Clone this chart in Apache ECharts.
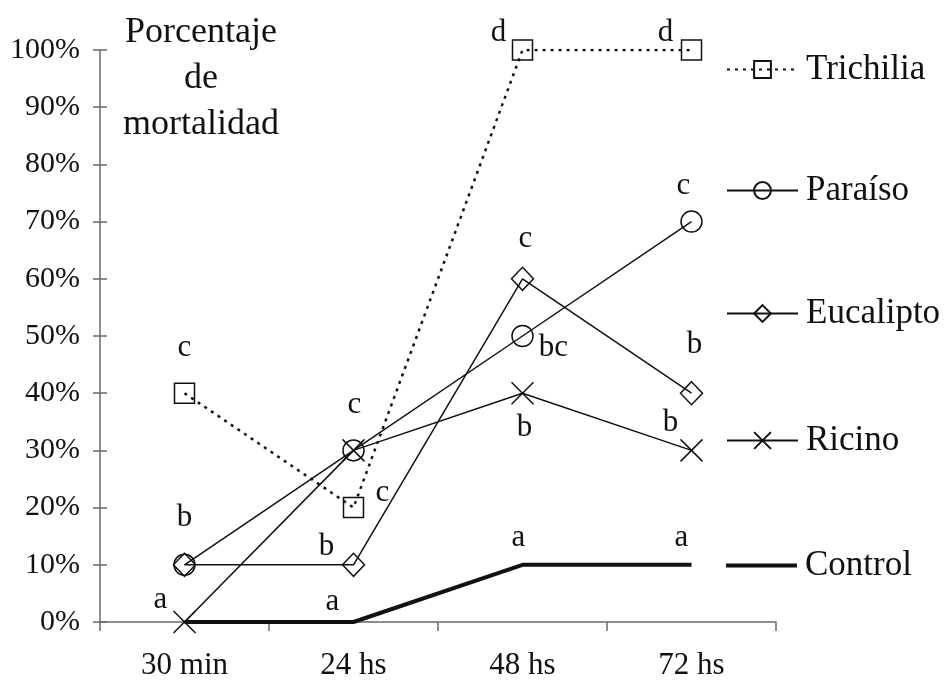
<!DOCTYPE html>
<html>
<head>
<meta charset="utf-8">
<script src="https://cdn.jsdelivr.net/npm/echarts@6/dist/echarts.min.js"></script>
<style>html,body{margin:0;padding:0;background:#fff;}#chart{width:946px;height:681px;}</style>
</head>
<body>
<div id="chart"></div>
<script>
// ---- data ----
const categories = ['30 min', '24 hs', '48 hs', '72 hs'];
const seriesNames = ['Trichilia', 'Paraíso', 'Eucalipto', 'Ricino', 'Control'];
const trichilia = [40, 20, 100, 100];
const paraiso = [10, 30, 50, 70];
const eucalipto = [10, 10, 60, 40];
const ricino = [0, 30, 40, 30];
const control = [0, 0, 10, 10];
const trichiliaLetters = ['c', 'c', 'd', 'd'];
const paraisoLetters = ['b', 'c', 'bc', 'c'];
const eucaliptoLetters = ['', 'b', 'c', 'b'];
const ricinoLetters = ['a', '', 'b', 'b'];
const controlLetters = ['', 'a', 'a', 'a'];
const yTickValues = [0, 10, 20, 30, 40, 50, 60, 70, 80, 90, 100];
const titleText = 'Porcentaje\nde\nmortalidad';

// ---- layout / style ----
const FONT = '"Liberation Serif", "Times New Roman", serif';
const AXIS_COLOR = '#6a6a6a';
const labelOffsets = {
  Trichilia: [[0, -45], [29, -15], [-24, -17], [-26, -17]],
  'Paraíso': [[0, -47], [1, -46], [31, 12], [-8, -36]],
  Eucalipto: [[0, 0], [-27, -18], [3, -40], [3, -48]],
  Ricino: [[-24, -22], [0, 0], [2, 35], [-21, -28]],
  Control: [[0, 0], [-21, -20], [-4, -27], [-10, -27]]
};

function buildData(values, letters, offsets) {
  return values.map((v, i) => ({
    value: v,
    label: letters[i] ? {
      show: true,
      formatter: letters[i],
      position: 'inside',
      offset: offsets[i],
      align: 'center',
      verticalAlign: 'middle',
      fontFamily: FONT,
      fontSize: 31,
      color: '#111'
    } : { show: false }
  }));
}

const hollow = { color: 'transparent', borderColor: '#111', borderWidth: 1.5 };
const xPath = 'path://M0,0L10,10M10,0L0,10';

const series = [
  { name: 'Trichilia', values: trichilia, letters: trichiliaLetters, symbol: 'rect', symbolSize: 20,
    itemStyle: hollow, lineStyle: { color: '#111', width: 2.5, type: [3, 5] } },
  { name: 'Paraíso', values: paraiso, letters: paraisoLetters, symbol: 'circle', symbolSize: 21,
    itemStyle: hollow, lineStyle: { color: '#111', width: 1.5 } },
  { name: 'Eucalipto', values: eucalipto, letters: eucaliptoLetters, symbol: 'diamond', symbolSize: [22, 23],
    itemStyle: hollow, lineStyle: { color: '#111', width: 1.5 } },
  { name: 'Ricino', values: ricino, letters: ricinoLetters, symbol: xPath, symbolSize: 22,
    itemStyle: hollow, lineStyle: { color: '#111', width: 1.5 } },
  { name: 'Control', values: control, letters: controlLetters, symbol: 'circle', symbolSize: 1,
    itemStyle: { color: 'transparent', borderWidth: 0 }, lineStyle: { color: '#111', width: 4 } }
].map(s => ({
  type: 'line',
  name: s.name,
  data: buildData(s.values, s.letters, labelOffsets[s.name]),
  symbol: s.symbol,
  symbolSize: s.symbolSize,
  showSymbol: true,
  itemStyle: s.itemStyle,
  lineStyle: s.lineStyle,
  emphasis: { disabled: true },
  animation: false,
  z: 3
}));

const legendRows = { Trichilia: 67, 'Paraíso': 188, Eucalipto: 311, Ricino: 438, Control: 563 };
const legends = seriesNames.map(n => ({
  data: n === 'Control'
    ? [{ name: n, icon: 'rect', itemStyle: { color: '#111', borderWidth: 0, opacity: 1 } }]
    : [{ name: n }],
  left: 726,
  top: legendRows[n] - 15,
  orient: 'horizontal',
  padding: 0,
  itemWidth: 71,
  itemHeight: n === 'Control' ? 4 : 21,
  itemGap: 0,
  selectedMode: false,
  textStyle: { fontFamily: FONT, fontSize: 35, color: '#111', padding: [0, 0, 0, 3] }
}));

const chart = echarts.init(document.getElementById('chart'), null, { renderer: 'canvas' });
chart.setOption({
  backgroundColor: '#fff',
  animation: false,
  title: {
    text: titleText,
    left: 201,
    top: 10,
    textAlign: 'center',
    padding: 0,
    textStyle: { fontFamily: FONT, fontSize: 36, fontWeight: 'normal', color: '#111', lineHeight: 46 }
  },
  legend: legends,
  grid: { left: 100, right: 170, top: 50, bottom: 58, containLabel: false },
  xAxis: {
    type: 'category',
    data: categories,
    boundaryGap: true,
    axisLine: { lineStyle: { color: AXIS_COLOR, width: 1.5 } },
    axisTick: { show: true, inside: false, length: 9, lineStyle: { color: AXIS_COLOR, width: 1.5 } },
    axisLabel: { fontFamily: FONT, fontSize: 31, color: '#111', margin: 28 },
    splitLine: { show: false }
  },
  yAxis: [
    {
      type: 'value', min: 0, max: 100, interval: 10,
      axisLine: { show: true, lineStyle: { color: AXIS_COLOR, width: 1.5 } },
      axisTick: { show: true, inside: false, length: 7, lineStyle: { color: AXIS_COLOR, width: 1.5 } },
      axisLabel: { fontFamily: FONT, fontSize: 30, color: '#111', margin: 20,
        formatter: v => (yTickValues.indexOf(v) >= 0 ? v + '%' : '') },
      splitLine: { show: false }
    },
    {
      type: 'value', min: 0, max: 100, interval: 10, position: 'left', offset: 0,
      axisLine: { show: false },
      axisTick: { show: true, inside: true, length: 7, lineStyle: { color: AXIS_COLOR, width: 1.5 } },
      axisLabel: { show: false },
      splitLine: { show: false }
    }
  ],
  series: series
});
</script>
</body>
</html>
